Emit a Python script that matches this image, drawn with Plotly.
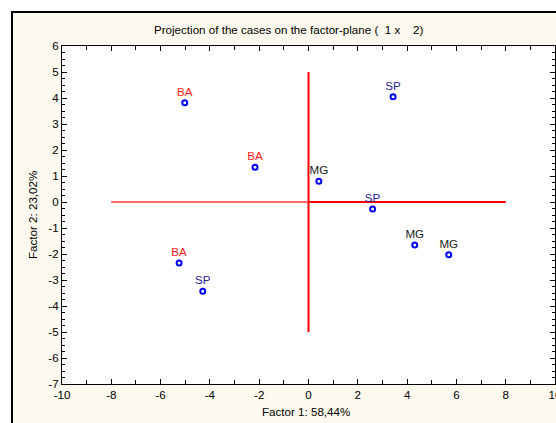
import plotly.graph_objects as go

# --- data ---
case_labels = ["BA", "BA", "MG", "SP", "SP", "MG", "MG", "BA", "SP"]
factor1 = [-5.02, -2.17, 0.42, 3.43, 2.60, 4.31, 5.69, -5.25, -4.29]
factor2 = [3.82, 1.34, 0.80, 4.05, -0.27, -1.65, -2.03, -2.35, -3.43]
label_colors = {"BA": "#ff1a1a", "SP": "#23239a", "MG": "#1a1a1a"}

x_tick_vals = [-10, -8, -6, -4, -2, 0, 2, 4, 6, 8, 10]
y_tick_vals = [-7, -6, -5, -4, -3, -2, -1, 0, 1, 2, 3, 4, 5, 6]
x_tick_text = [str(v) for v in x_tick_vals]
y_tick_text = [str(v) for v in y_tick_vals]

h_axis_x = [-8, 0, 8]   # horizontal reference line extent (factor 1)
v_axis_y = [-5, 5]      # vertical reference line extent (factor 2)

title_text = "Projection of the cases on the factor-plane (  1 x    2)"
xtitle = "Factor 1: 58,44%"
ytitle = "Factor 2: 23,02%"

W, H = 556, 423
L, R, T, B = 62, 1, 46, 39
pw, ph = W - L - R, H - T - B

def px(x):
    return (x - L) / pw

def py(y):
    return (H - B - y) / ph

FONT = "Liberation Sans, Arial"
FS = 11.6

fig = go.Figure()

# reference lines
fig.add_trace(go.Scatter(x=[h_axis_x[0], h_axis_x[1]], y=[0, 0], mode="lines",
                         line=dict(color="rgba(255,40,40,0.7)", width=2), hoverinfo="skip"))
fig.add_trace(go.Scatter(x=[h_axis_x[1], h_axis_x[2]], y=[0, 0], mode="lines",
                         line=dict(color="#ff0000", width=2), hoverinfo="skip"))
fig.add_trace(go.Scatter(x=[0, 0], y=v_axis_y, mode="lines",
                         line=dict(color="#ff0000", width=2), hoverinfo="skip"))

fig.add_trace(go.Scatter(
    x=factor1, y=factor2, mode="markers+text",
    text=case_labels, textposition="top center",
    textfont=dict(family=FONT, size=FS,
                  color=[label_colors[c] for c in case_labels]),
    marker=dict(symbol="circle-open", size=5, color="#0000ff",
                line=dict(width=2, color="#0000ff")),
))

axis_common = dict(
    showgrid=False, zeroline=False, showline=True, linecolor="#000000", linewidth=1,
    mirror="ticks", ticks="inside", ticklen=5, tickcolor="#000000", tickwidth=1,
    tickfont=dict(family=FONT, size=FS, color="#000000"),
    ticklabeloverflow="allow", automargin=False,
)

fig.update_xaxes(range=[-10, 10], tickmode="array", tickvals=x_tick_vals, ticktext=x_tick_text,
                 minor=dict(dtick=1, tick0=0, ticks="inside", ticklen=4, tickcolor="#000000"),
                 **axis_common)
fig.update_yaxes(range=[-7, 6], tickmode="array", tickvals=y_tick_vals, ticktext=y_tick_text,
                 minor=dict(dtick=0.25, tick0=0, ticks="inside", ticklen=3, tickcolor="#000000"),
                 **axis_common)

shapes = [
    dict(type="rect", xref="paper", yref="paper", x0=px(0), x1=px(W + 5),
         y0=py(11), y1=py(-5), fillcolor="#ffffff", line=dict(width=0), layer="above"),
    dict(type="rect", xref="paper", yref="paper", x0=px(-5), x1=px(11),
         y0=py(H + 5), y1=py(-5), fillcolor="#ffffff", line=dict(width=0), layer="above"),
    dict(type="line", xref="paper", yref="paper", x0=px(11), x1=px(W + 5),
         y0=py(12), y1=py(12), line=dict(color="#000000", width=2), layer="above"),
    dict(type="line", xref="paper", yref="paper", x0=px(12), x1=px(12),
         y0=py(11), y1=py(H + 5), line=dict(color="#000000", width=2), layer="above"),
]

annotations = [
    dict(text=title_text, xref="paper", yref="paper", x=px(288.5), y=py(29),
         showarrow=False, xanchor="center", yanchor="middle",
         font=dict(family=FONT, size=FS, color="#000000")),
    dict(text=xtitle, xref="paper", yref="paper", x=px(306), y=py(411),
         showarrow=False, xanchor="center", yanchor="middle",
         font=dict(family=FONT, size=FS, color="#000000")),
    dict(text=ytitle, xref="paper", yref="paper", x=px(32), y=py(215), textangle=-90,
         showarrow=False, xanchor="center", yanchor="middle",
         font=dict(family=FONT, size=FS, color="#000000")),
]

fig.update_layout(
    width=W, height=H, margin=dict(l=L, r=R, t=T, b=B, pad=0, autoexpand=False),
    paper_bgcolor="#fdf9ee", plot_bgcolor="#ffffff",
    showlegend=False, shapes=shapes, annotations=annotations,
    font=dict(family=FONT, size=FS, color="#000000"),
)

fig.write_html("out.html", config={"displayModeBar": False},
               post_script="document.body.style.margin='0px';document.body.style.overflow='hidden';")
